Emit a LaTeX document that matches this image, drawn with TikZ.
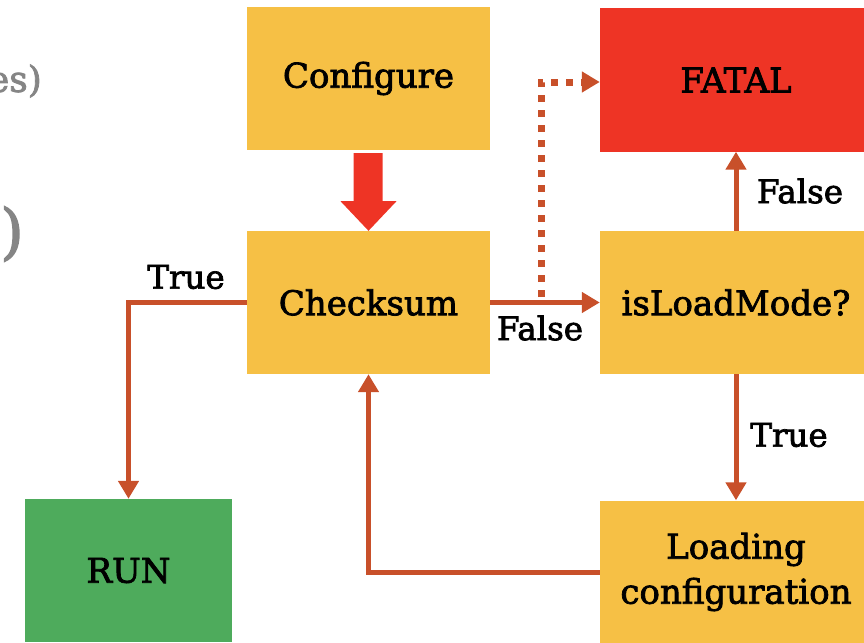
\documentclass[tikz,border=0pt]{standalone}
\usepackage{fontspec}
\setmainfont{DejaVu Serif}[FakeBold=2.2]
\usetikzlibrary{arrows.meta,calc}
\definecolor{boxyellow}{HTML}{F6C045}
\definecolor{boxred}{HTML}{EE3425}
\definecolor{boxgreen}{HTML}{4EAB5C}
\definecolor{arrowc}{HTML}{C8502A}
\definecolor{greytext}{HTML}{858585}
\tikzset{
  box/.style={rectangle, minimum width=#1, minimum height=143pt, inner sep=0pt, align=center, font=\fontsize{34}{45}\selectfont},
  box/.default=243pt,
  flow/.style={draw=arrowc, line width=5pt, -{Triangle[width=20pt,length=18pt]}},
  dotflow/.style={draw=arrowc, line width=7pt, dash pattern=on 7pt off 8pt, -{Triangle[width=20pt,length=18pt]}},
  lbl/.style={font=\fontsize{32.5}{38}\selectfont, inner sep=0pt}
}
\begin{document}
\begin{tikzpicture}[x=1pt,y=-1pt]
\useasboundingbox (0,0) rectangle (864,642);
\clip (0,0) rectangle (864,642);
% partial text from the slide edge
\node[anchor=east, text=greytext, font=\fontsize{36}{40}\selectfont, inner sep=0pt] (frag1) at (42,81) {es)};
\node[anchor=east, text=greytext, font=\fontsize{60}{70}\selectfont, inner sep=0pt] (frag2) at (24,234) {)};
% boxes
\node[box, fill=boxyellow] (conf) at (368.5,78.5) {Configure};
\node[box=272pt, fill=boxred] (fatal) at (736,80) {FATAL};
\node[box, fill=boxyellow] (chk) at (368.5,302.5) {Checksum};
\node[box=272pt, fill=boxyellow] (isl) at (736,302.5) {isLoadMode?};
\node[box=207pt, fill=boxgreen] (run) at (128.5,570.5) {RUN};
\node[box=272pt, fill=boxyellow] (load) at (736,572) {\raisebox{-5pt}{Loading}\\\raisebox{-5pt}{configuration}};
% block arrow configure -> checksum
\fill[boxred] ($(conf.south)+(-15,3)$) -- ++(29,0) -- ++(0,48) -- ++(14,0) -- (chk.north) -- ($(conf.south)+(-28,51)$) -- ++(13,0) -- cycle;
% connectors
\draw[flow] (chk.east) -- (isl.west);
\coordinate (d0) at (541,297);
\draw[dotflow] (d0) |- ($(fatal.west)+(0,2)$);
\draw[flow] (isl.north) -- (fatal.south);
\draw[flow] (isl.south) -- (load.north);
\draw[flow] (load.west) -| (chk.south);
\draw[flow] (chk.west) -| (run.north);
% labels
\node[lbl] (lt1) at (186,277) {True};
\node[lbl] (lf1) at (540,328) {False};
\node[lbl] (lf2) at (800,191) {False};
\node[lbl] (lt2) at (789,435) {True};
\end{tikzpicture}
\end{document}
